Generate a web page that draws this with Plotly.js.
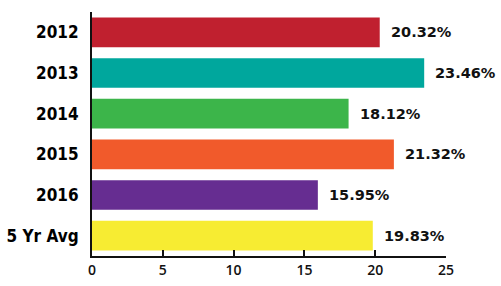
<!DOCTYPE html>
<html>
<head>
<meta charset="utf-8">
<script src="https://cdn.plot.ly/plotly-3.0.1.min.js"></script>
<style>html,body{margin:0;padding:0;background:#fff;}#chart{width:501px;height:286px;}</style>
</head>
<body>
<div id="chart"></div>
<script>
const categories = ["2012", "2013", "2014", "2015", "2016", "5 Yr Avg"];
const values = [20.32, 23.46, 18.12, 21.32, 15.95, 19.83];
const barColors = ["#C0202F", "#00A79D", "#3CB54A", "#F15A2B", "#662D91", "#F7EC32"];
const xTickVals = [0, 5, 10, 15, 20, 25];

const trace = {
  type: "bar",
  orientation: "h",
  x: values,
  y: categories,
  marker: { color: barColors, line: { width: 0 } },
  hoverinfo: "none"
};

const annotations = values.map((v, i) => ({
  x: v, y: i, xref: "x", yref: "y",
  text: v.toFixed(2) + "%",
  showarrow: false, xanchor: "left", xshift: 9,
  font: { family: "DejaVu Sans", size: 14.5, color: "#111", weight: "bold" }
}));

const layout = {
  width: 501, height: 286,
  margin: { l: 92, r: 55, t: 12, b: 30, pad: 0 },
  paper_bgcolor: "#fff", plot_bgcolor: "#fff",
  showlegend: false,
  bargap: 0.27,
  xaxis: {
    range: [0, 25], tickvals: xTickVals, ticktext: xTickVals.map(String),
    showgrid: false, zeroline: false,
    showline: true, linecolor: "#111", linewidth: 2,
    ticks: "inside", ticklen: 6, tickwidth: 2, tickcolor: "#111",
    tickfont: { family: "Open Sans", size: 14, color: "#111", weight: 600 },
    fixedrange: true
  },
  yaxis: {
    type: "category", categoryorder: "array", categoryarray: categories,
    range: [5.5, -0.5],
    showgrid: false, zeroline: false,
    showline: true, linecolor: "#111", linewidth: 2,
    ticks: "", ticklabelstandoff: 8,
    tickfont: { family: "DejaVu Sans Condensed", size: 17, color: "#000", weight: 900 },
    fixedrange: true
  },
  annotations: annotations
};

Plotly.newPlot("chart", [trace], layout, { staticPlot: true, displayModeBar: false });
</script>
</body>
</html>
